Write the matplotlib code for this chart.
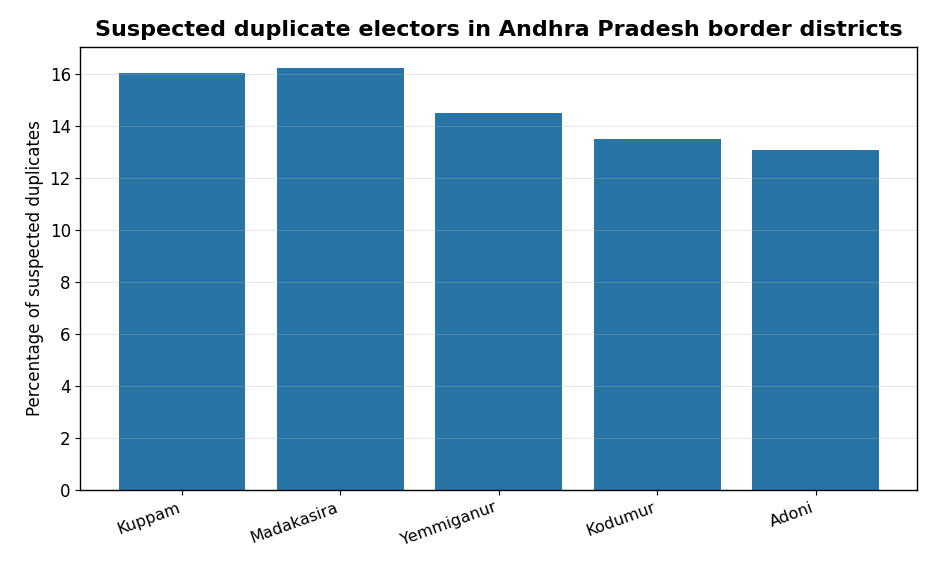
import matplotlib
matplotlib.use("Agg")
import matplotlib.pyplot as plt

# Data
constituencies = ['Kuppam', 'Madakasira', 'Yemmiganur', 'Kodumur', 'Adoni']
duplicate_pct = [16.04, 16.23, 14.5, 13.5, 13.08]

plt.rcParams['font.size'] = 12
plt.rcParams['axes.linewidth'] = 1.0

fig, ax = plt.subplots(figsize=(9.36, 5.72), dpi=100)
ax.bar(constituencies, duplicate_pct, color='#2874a6', width=0.8)
ax.set_title("Suspected duplicate electors in Andhra Pradesh border districts",
             fontsize=16, fontweight='bold', pad=8)
ax.set_ylabel("Percentage of suspected duplicates")
ax.grid(axis='y', alpha=0.3)
ax.tick_params(axis='x', labelsize=11.5)
plt.xticks(rotation=20, ha='right')
plt.subplots_adjust(left=0.086, right=0.98, top=0.918, bottom=0.143)
fig.savefig("out.png", dpi=100)
